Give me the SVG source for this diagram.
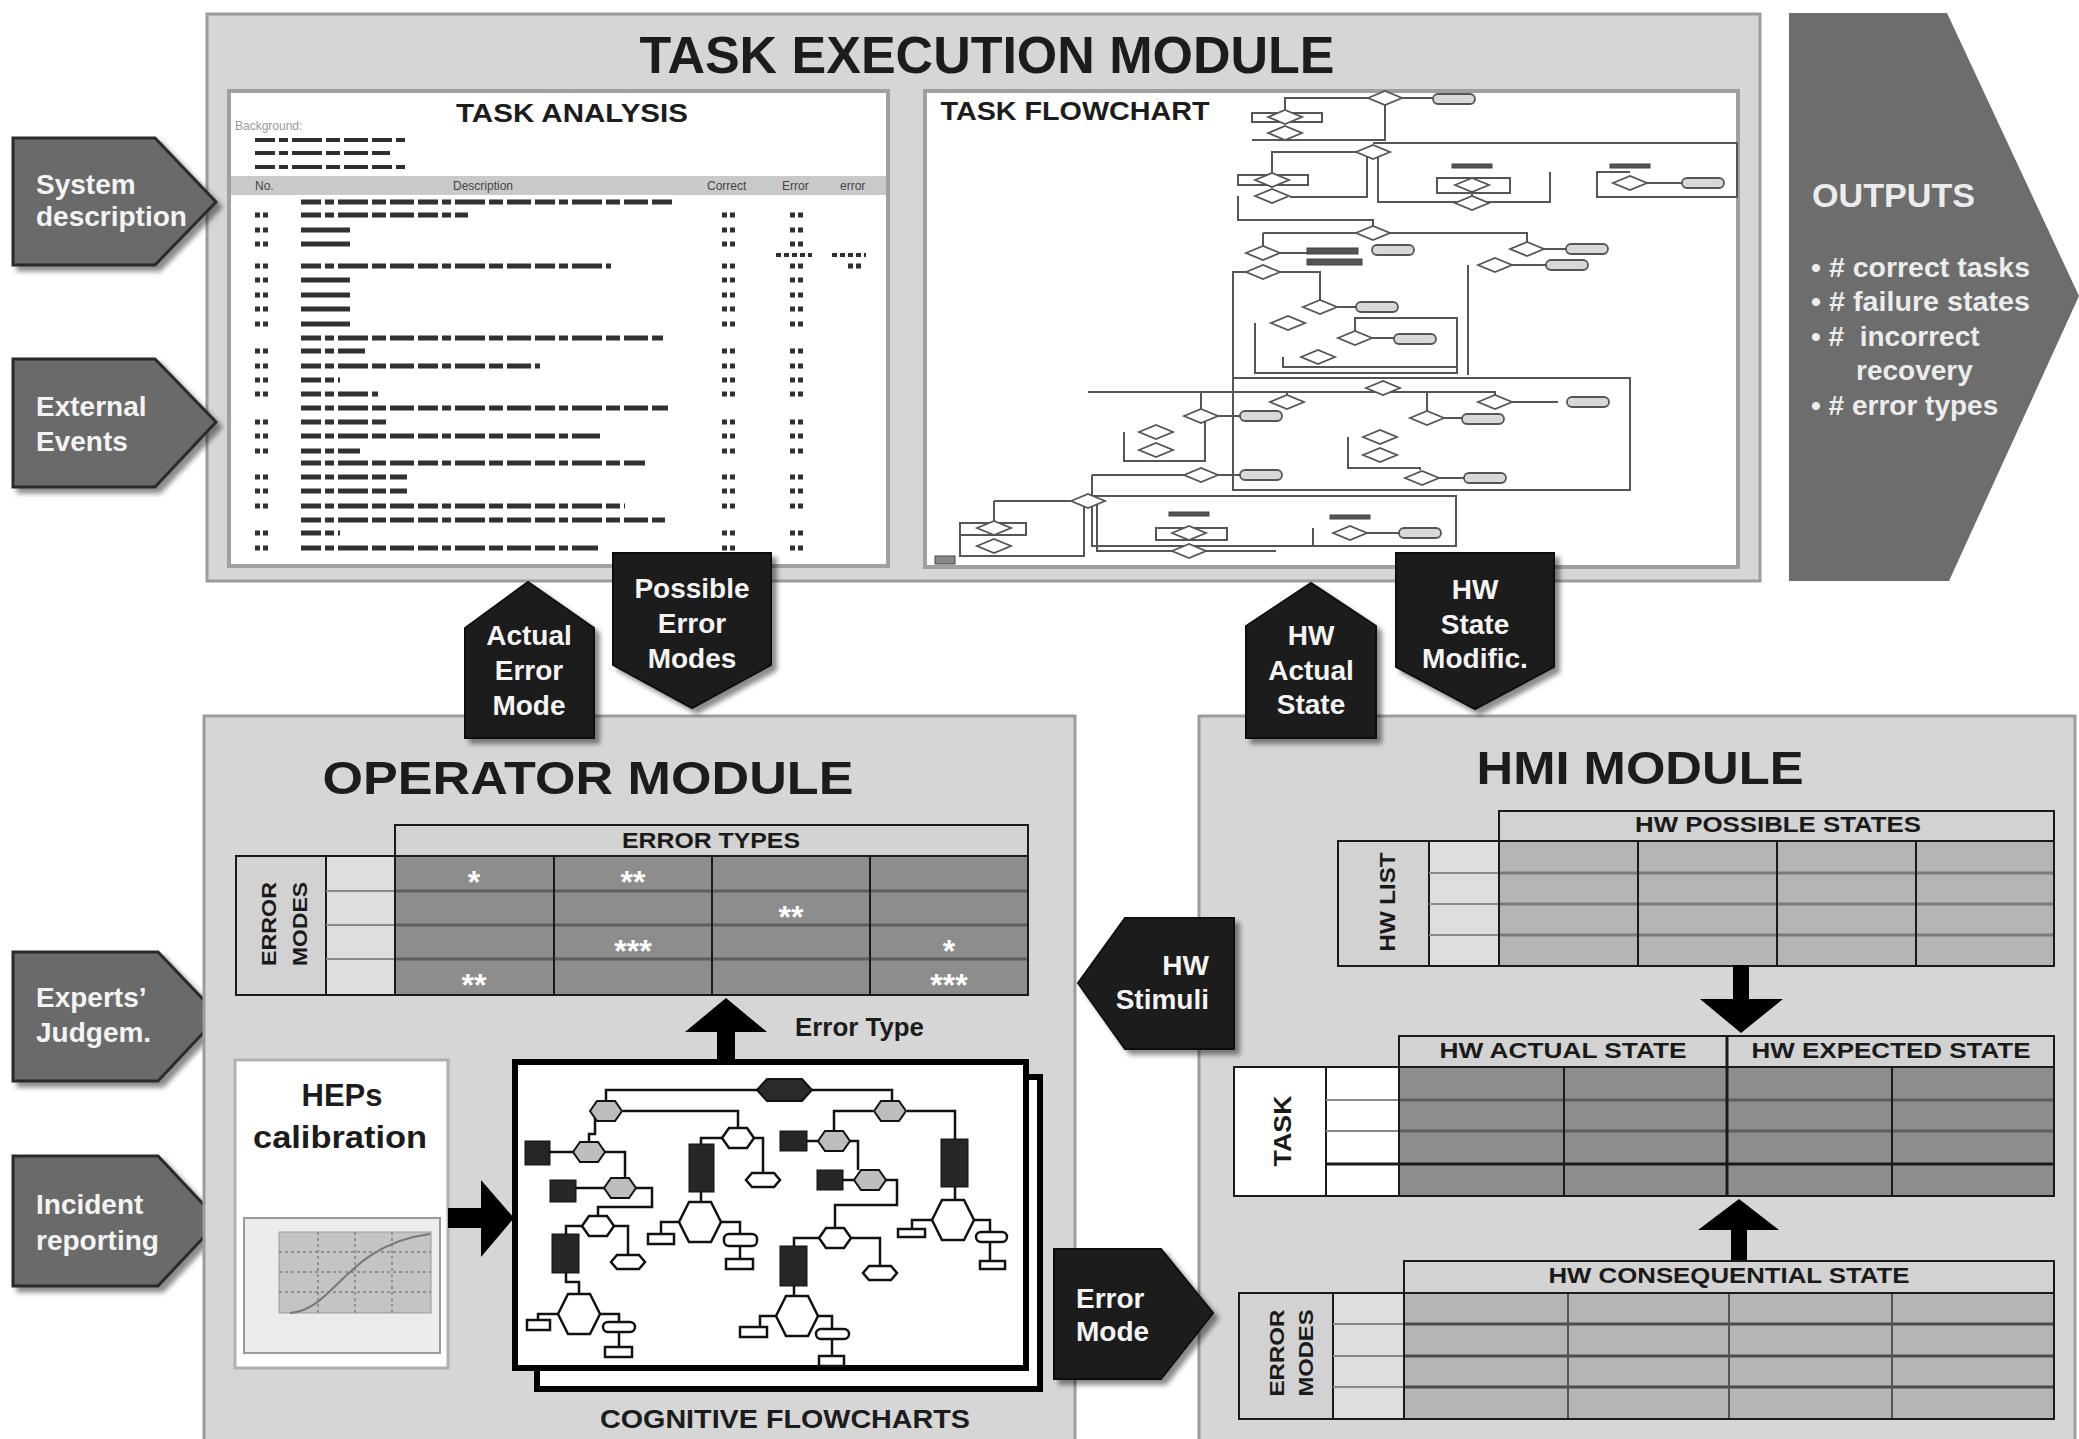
<svg xmlns="http://www.w3.org/2000/svg" width="2079" height="1439" viewBox="0 0 2079 1439">
<defs>
<filter id="sh" x="-20%" y="-20%" width="140%" height="140%"><feDropShadow dx="5" dy="5" stdDeviation="2.5" flood-color="#000" flood-opacity="0.45"/></filter>
<polygon id="dia" points="-17,0 0,-7 17,0 0,7"/>
<rect id="rr" x="-21" y="-5" width="42" height="10" rx="5"/>
<polygon id="hx" points="-16,0 -9,-10 9,-10 16,0 9,10 -9,10"/>
<polygon id="hxb" points="-21,0 -11,-20 11,-20 21,0 11,20 -11,20"/>
<polygon id="hxt" points="-17,0 -11,-7 11,-7 17,0 11,7 -11,7"/>
</defs>
<style>
.t{font-family:"Liberation Sans",Arial,sans-serif;font-weight:bold}
.tr{font-family:"Liberation Sans",Arial,sans-serif}
.mod{fill:#d6d6d6;stroke:#9c9c9c;stroke-width:3}
.inner{fill:#fff;stroke:#a0a0a0;stroke-width:4}
.title{font-size:52px;fill:#1c1c1c}
.w{fill:#f4f4f4;font-size:28px}
.blk{fill:#1e1e1e;stroke:#111;stroke-width:2;filter:url(#sh)}
.gin{fill:#6b6b6b;stroke:#2a2a2a;stroke-width:3;filter:url(#sh)}
.tb{stroke:#303030;stroke-width:5;stroke-dasharray:20 4 9 4 30 4 14 4 24 4;fill:none}
.tc{stroke:#303030;stroke-width:5;stroke-dasharray:5 3;fill:none}
.fl{fill:none;stroke:#555;stroke-width:2}
.fd{fill:#fff;stroke:#555;stroke-width:1.8}
.fr{fill:#d8d8d8;stroke:#555;stroke-width:1.8}
.fb{fill:#555;stroke:#444;stroke-width:1}
.cl{fill:none;stroke:#111;stroke-width:2.5}
.cg{fill:#bdbdbd;stroke:#111;stroke-width:2}
.cw{fill:#fff;stroke:#111;stroke-width:2.5}
.cd{fill:#262626;stroke:#111;stroke-width:1}
.hd{fill:#d2d2d2;stroke:#1a1a1a;stroke-width:2}
.lc{fill:#dedede;stroke:#1a1a1a;stroke-width:2}
.dk{fill:#8d8d8d;stroke:#1a1a1a;stroke-width:2}
.lt{fill:#b5b5b5;stroke:#1a1a1a;stroke-width:2}
.rl{stroke:#5e5e5e;stroke-width:3}
.rlg{stroke:#8a8a8a;stroke-width:2}
.cv{stroke:#1a1a1a;stroke-width:2}
.th{font-size:22px;fill:#1a1a1a}
.star{font-size:32px;fill:#fff}
.arr{fill:#000}
</style>

<rect width="2079" height="1439" fill="#fff"/>

<!-- TASK EXECUTION MODULE -->
<g id="task-execution-module">
<rect class="mod" x="207" y="14" width="1553" height="567"/>
<text class="t title" x="987" y="73" text-anchor="middle" textLength="695" lengthAdjust="spacingAndGlyphs">TASK EXECUTION MODULE</text>

<g id="task-analysis">
<rect class="inner" x="229" y="91" width="659" height="475"/>
<text class="t" x="572" y="122" font-size="26" fill="#1c1c1c" text-anchor="middle" textLength="232" lengthAdjust="spacingAndGlyphs">TASK ANALYSIS</text>
<text class="tr" x="235" y="130" font-size="12" fill="#999">Background:</text>
<g class="tb" style="stroke-width:4">
<line x1="255" y1="140" x2="405" y2="140"/><line x1="255" y1="153" x2="390" y2="153"/><line x1="255" y1="167" x2="408" y2="167"/>
</g>
<rect x="231" y="176" width="655" height="19" fill="#c9c9c9"/>
<g class="tr" font-size="12" fill="#444">
<text x="255" y="190">No.</text><text x="453" y="190">Description</text><text x="707" y="190">Correct</text><text x="782" y="190">Error</text><text x="840" y="190">error</text>
</g>
<g class="tb">
<line x1="301" y1="202" x2="675" y2="202"/>
<line x1="301" y1="215" x2="468" y2="215"/>
<line x1="301" y1="230" x2="350" y2="230" style="stroke-dasharray:none"/>
<line x1="301" y1="244" x2="350" y2="244" style="stroke-dasharray:none"/>
<line x1="301" y1="266" x2="611" y2="266"/>
<line x1="301" y1="280" x2="350" y2="280" style="stroke-dasharray:none"/>
<line x1="301" y1="295" x2="350" y2="295" style="stroke-dasharray:none"/>
<line x1="301" y1="309" x2="350" y2="309" style="stroke-dasharray:none"/>
<line x1="301" y1="324" x2="350" y2="324" style="stroke-dasharray:none"/>
<line x1="301" y1="338" x2="663" y2="338"/>
<line x1="301" y1="351" x2="365" y2="351"/>
<line x1="301" y1="366" x2="540" y2="366"/>
<line x1="301" y1="380" x2="340" y2="380"/>
<line x1="301" y1="394" x2="378" y2="394"/>
<line x1="301" y1="408" x2="668" y2="408"/>
<line x1="301" y1="422" x2="388" y2="422"/>
<line x1="301" y1="436" x2="600" y2="436"/>
<line x1="301" y1="451" x2="360" y2="451"/>
<line x1="301" y1="463" x2="645" y2="463"/>
<line x1="301" y1="477" x2="407" y2="477"/>
<line x1="301" y1="491" x2="407" y2="491"/>
<line x1="301" y1="506" x2="625" y2="506"/>
<line x1="301" y1="520" x2="665" y2="520"/>
<line x1="301" y1="533" x2="340" y2="533"/>
<line x1="301" y1="548" x2="598" y2="548"/>
</g>
<path class="tc" d="M255 215h15M255 230h15M255 244h15M255 266h15M255 280h15M255 295h15M255 309h15M255 324h15M255 351h15M255 366h15M255 380h15M255 394h15M255 422h15M255 436h15M255 451h15M255 477h15M255 491h15M255 506h15M255 533h15M255 548h15"/>
<path class="tc" d="M722 215h15M722 230h15M722 244h15M722 266h15M722 280h15M722 295h15M722 309h15M722 324h15M722 351h15M722 366h15M722 380h15M722 394h15M722 422h15M722 436h15M722 451h15M722 477h15M722 491h15M722 506h15M722 533h15M722 548h15"/>
<path class="tc" d="M790 215h16M790 230h16M790 244h16M790 266h16M790 280h16M790 295h16M790 309h16M790 324h16M790 351h16M790 366h16M790 380h16M790 394h16M790 422h16M790 436h16M790 451h16M790 477h16M790 491h16M790 506h16M790 533h16M790 548h16M848 266h14"/>
<path class="tc" style="stroke-width:4" d="M776 255h36M832 255h34"/>
</g>

<g id="task-flowchart">
<rect class="inner" x="925" y="91" width="813" height="476"/>
<text class="t" x="1075" y="120" font-size="26" fill="#1c1c1c" text-anchor="middle" textLength="269" lengthAdjust="spacingAndGlyphs">TASK FLOWCHART</text>
<path class="fl" d="M1285 112V98H1440M1252 140H1385V98M1252 113h70v9h-70zM1373 143H1737V197H1597V172H1630M1378 150V202H1550V172M1373 152H1272V175M1238 175h70v10h-70zM1367 152V197H1290M1238 196V220H1373V233M1263 233H1527V249M1263 233V253M1468 265V375M1233 273V378H1630V490H1233V378M1263 272H1233V273M1263 272H1320V307M1255 323V373H1457V318H1355V338M1283 357V367H1457M1088 392H1495V402M1201 416V392M1427 392V418M1348 437V468H1420V470M1124 432V461H1205V416M1092 475H1201M1092 475V496M1092 496H1456V546H1092ZM994 501H1088M994 501V523M960 523h66v12h-66zM960 528V556H1084V501M1097 500V551H1276M1156 528h71v12h-71zM1313 528V546H1456M1437 178h73v15h-73zM1597 172V197M1472 183V203M1630 183H1683M1527 249H1566M1495 265H1546M1263 253H1307M1320 307H1356M1355 338H1394M1495 402H1558M1427 418H1462M1422 478H1464M1201 475H1240M1201 416H1240M1350 533H1399M1287 402V392M945 556V563"/>
<g class="fd">
<use href="#dia" x="1385" y="98"/><use href="#dia" x="1285" y="117"/><use href="#dia" x="1285" y="133"/>
<use href="#dia" x="1373" y="152"/><use href="#dia" x="1272" y="180"/><use href="#dia" x="1272" y="196"/>
<use href="#dia" x="1472" y="185"/><use href="#dia" x="1472" y="203"/><use href="#dia" x="1630" y="183"/>
<use href="#dia" x="1373" y="233"/><use href="#dia" x="1263" y="253"/><use href="#dia" x="1263" y="272"/>
<use href="#dia" x="1527" y="249"/><use href="#dia" x="1495" y="265"/>
<use href="#dia" x="1320" y="307"/><use href="#dia" x="1288" y="323"/><use href="#dia" x="1355" y="338"/><use href="#dia" x="1318" y="357"/>
<use href="#dia" x="1383" y="388"/><use href="#dia" x="1287" y="402"/><use href="#dia" x="1495" y="402"/>
<use href="#dia" x="1201" y="416"/><use href="#dia" x="1427" y="418"/><use href="#dia" x="1380" y="437"/><use href="#dia" x="1380" y="455"/>
<use href="#dia" x="1156" y="432"/><use href="#dia" x="1156" y="450"/><use href="#dia" x="1422" y="478"/><use href="#dia" x="1201" y="475"/>
<use href="#dia" x="1088" y="501"/><use href="#dia" x="994" y="528"/><use href="#dia" x="994" y="546"/>
<use href="#dia" x="1189" y="533"/><use href="#dia" x="1189" y="551"/><use href="#dia" x="1350" y="533"/>
</g>
<g class="fr">
<use href="#rr" x="1454" y="99"/><use href="#rr" x="1703" y="183"/><use href="#rr" x="1393" y="250"/>
<use href="#rr" x="1587" y="249"/><use href="#rr" x="1567" y="265"/><use href="#rr" x="1377" y="307"/>
<use href="#rr" x="1415" y="339"/><use href="#rr" x="1588" y="402"/><use href="#rr" x="1483" y="419"/>
<use href="#rr" x="1261" y="416"/><use href="#rr" x="1485" y="478"/><use href="#rr" x="1261" y="475"/>
<use href="#rr" x="1420" y="533"/>
</g>
<g class="fb">
<rect x="1307" y="248" width="51" height="6"/><rect x="1307" y="259" width="55" height="6"/>
<rect x="1452" y="164" width="40" height="4"/><rect x="1610" y="164" width="40" height="4"/>
<rect x="1169" y="512" width="40" height="4"/><rect x="1330" y="515" width="40" height="4"/>
<rect x="935" y="556" width="20" height="8" fill="#888"/>
</g>
</g>
</g>

<!-- OUTPUTS -->
<g id="outputs">
<polygon points="1789,13 1947,13 2079,296 1949,581 1789,581" fill="#6d6d6d"/>
<g class="t" fill="#ececec">
<text x="1812" y="207" font-size="33" textLength="163" lengthAdjust="spacingAndGlyphs">OUTPUTS</text>
<text x="1811" y="277" font-size="28" textLength="219" lengthAdjust="spacingAndGlyphs">• # correct tasks</text>
<text x="1811" y="311" font-size="28" textLength="219" lengthAdjust="spacingAndGlyphs">• # failure states</text>
<text x="1811" y="346" font-size="28" xml:space="preserve">• #  incorrect</text>
<text x="1856" y="380" font-size="28">recovery</text>
<text x="1811" y="415" font-size="28">• # error types</text>
</g>
</g>

<!-- INPUTS -->
<g id="input-system-description">
<polygon class="gin" points="13,138 155,138 216,202 155,265 13,265"/>
<text class="t w" x="36" y="194">System</text>
<text class="t w" x="36" y="226">description</text>
</g>
<g id="input-external-events">
<polygon class="gin" points="13,359 155,359 216,422 155,487 13,487"/>
<text class="t w" x="36" y="416">External</text>
<text class="t w" x="36" y="451">Events</text>
</g>
<g id="input-experts-judgement">
<polygon class="gin" points="13,952 158,952 219,1016 158,1081 13,1081"/>
<text class="t w" x="36" y="1007">Experts’</text>
<text class="t w" x="36" y="1042">Judgem.</text>
</g>
<g id="input-incident-reporting">
<polygon class="gin" points="13,1156 158,1156 219,1221 158,1286 13,1286"/>
<text class="t w" x="36" y="1214">Incident</text>
<text class="t w" x="36" y="1250">reporting</text>
</g>

<!-- OPERATOR MODULE -->
<g id="operator-module">
<rect class="mod" x="204" y="716" width="871" height="730"/>
<text class="t title" x="588" y="794" text-anchor="middle" textLength="531" lengthAdjust="spacingAndGlyphs" style="font-size:46px">OPERATOR MODULE</text>

<g id="error-types-table">
<rect class="hd" x="395" y="825" width="633" height="31"/>
<text class="t th" x="711" y="848" text-anchor="middle" textLength="178" lengthAdjust="spacingAndGlyphs">ERROR TYPES</text>
<rect class="hd" x="236" y="856" width="90" height="139"/>
<rect class="lc" x="326" y="856" width="69" height="139"/>
<path class="rlg" d="M326 891H395M326 925H395M326 959H395"/>
<rect class="dk" x="395" y="856" width="633" height="139"/>
<path class="rl" d="M395 891H1028M395 925H1028M395 959H1028"/>
<path class="cv" d="M554 856V995M712 856V995M870 856V995"/>
<rect x="395" y="856" width="633" height="139" fill="none" stroke="#1a1a1a" stroke-width="2"/>
<text class="t" font-size="21" fill="#1a1a1a" transform="translate(276,924) rotate(-90)" text-anchor="middle" textLength="84" lengthAdjust="spacingAndGlyphs">ERROR</text>
<text class="t" font-size="21" fill="#1a1a1a" transform="translate(307,924) rotate(-90)" text-anchor="middle" textLength="84" lengthAdjust="spacingAndGlyphs">MODES</text>
<g class="t star" text-anchor="middle">
<text x="474" y="893">*</text><text x="633" y="893">**</text>
<text x="791" y="928">**</text>
<text x="633" y="962">***</text><text x="949" y="962">*</text>
<text x="474" y="996">**</text><text x="949" y="996">***</text>
</g>
</g>

<g id="heps-calibration">
<rect x="235" y="1060" width="213" height="308" fill="#fff" stroke="#b0b0b0" stroke-width="3"/>
<text class="t" x="342" y="1106" font-size="31" fill="#1c1c1c" text-anchor="middle">HEPs</text>
<text class="t" x="340" y="1148" font-size="31" fill="#1c1c1c" text-anchor="middle" textLength="174" lengthAdjust="spacingAndGlyphs">calibration</text>
<rect x="244" y="1218" width="196" height="135" fill="#ececec" stroke="#9a9a9a" stroke-width="2"/>
<rect x="279" y="1232" width="152" height="81" fill="#c4c4c4" stroke="#999" stroke-width="1"/>
<path d="M318 1232V1313M355 1232V1313M392 1232V1313M279 1252H431M279 1272H431M279 1292H431" stroke="#808080" stroke-width="1.5" stroke-dasharray="3 3"/>
<path d="M290 1313C335 1310 345 1245 430 1234" fill="none" stroke="#777" stroke-width="2"/>
</g>

<g id="cognitive-flowcharts">
<rect x="537" y="1077" width="503" height="312" fill="#fff" stroke="#000" stroke-width="6"/>
<rect x="515" y="1062" width="511" height="306" fill="#fff" stroke="#000" stroke-width="6"/>
<path class="cl" d="M606 1101V1090H757M812 1090H892V1101M623 1111H738V1128M595 1118V1134H589V1143M550 1152H574M604 1152H625V1178M576 1188H606M634 1188H652V1207H598V1215M584 1226H566V1234M612 1226H628V1255M566 1273V1282H579V1294M559 1314H538V1320M599 1314H619V1322M619 1332V1347M724 1138H701V1144M752 1138H763V1173M701 1192V1202M680 1222H661V1234M720 1222H740V1234M740 1246V1259M873 1111H834V1132M907 1111H955V1139M820 1141H807M848 1141H858V1170M855 1180H843M885 1180H897V1205H835V1228M820 1238H794V1246M850 1238H880V1266M794 1286V1296M777 1316H760V1327M817 1316H832V1329M832 1339V1356M955 1187V1200M933 1220H912V1229M973 1220H990V1232M990 1242V1261"/>
<polygon points="757,1090 767,1079 802,1079 812,1090 802,1101 767,1101" fill="#2a2a2a" stroke="#111" stroke-width="2"/>
<g class="cg">
<use href="#hx" x="606" y="1111"/><use href="#hx" x="890" y="1111"/><use href="#hx" x="589" y="1152"/>
<use href="#hx" x="620" y="1188"/><use href="#hx" x="834" y="1141"/><use href="#hx" x="870" y="1180"/>
</g>
<g class="cw">
<use href="#hx" x="738" y="1138"/><use href="#hx" x="598" y="1226"/><use href="#hx" x="835" y="1238"/>
<use href="#hxb" x="700" y="1222"/><use href="#hxb" x="579" y="1314"/><use href="#hxb" x="797" y="1316"/><use href="#hxb" x="953" y="1220"/>
<use href="#hxt" x="763" y="1180"/><use href="#hxt" x="628" y="1262"/><use href="#hxt" x="880" y="1273"/>
<rect x="648" y="1234" width="26" height="10"/><rect x="724" y="1234" width="33" height="12" rx="5"/><rect x="726" y="1259" width="27" height="10"/>
<rect x="527" y="1320" width="23" height="10"/><rect x="603" y="1322" width="32" height="10" rx="5"/><rect x="605" y="1347" width="27" height="10"/>
<rect x="740" y="1327" width="27" height="10"/><rect x="816" y="1329" width="33" height="10" rx="5"/><rect x="819" y="1356" width="25" height="10"/>
<rect x="898" y="1229" width="27" height="8"/><rect x="976" y="1232" width="31" height="10" rx="5"/><rect x="980" y="1261" width="25" height="8"/>
</g>
<g class="cd">
<rect x="525" y="1141" width="25" height="24"/><rect x="550" y="1180" width="26" height="22"/><rect x="689" y="1144" width="25" height="48"/>
<rect x="552" y="1234" width="27" height="39"/><rect x="780" y="1131" width="27" height="20"/><rect x="817" y="1170" width="26" height="20"/>
<rect x="780" y="1246" width="27" height="40"/><rect x="941" y="1139" width="27" height="48"/>
</g>
<text class="t" x="785" y="1428" font-size="25" fill="#1c1c1c" text-anchor="middle" textLength="370" lengthAdjust="spacingAndGlyphs">COGNITIVE FLOWCHARTS</text>
</g>

<g id="operator-arrows">
<rect class="arr" x="448" y="1208" width="34" height="20"/>
<polygon class="arr" points="481,1180 514,1218 481,1257"/>
<rect class="arr" x="717" y="1030" width="18" height="33"/>
<polygon class="arr" points="685,1032 767,1032 726,998"/>
<text class="t" x="795" y="1036" font-size="25" fill="#1c1c1c" textLength="129" lengthAdjust="spacingAndGlyphs">Error Type</text>
</g>
</g>

<!-- HMI MODULE -->
<g id="hmi-module">
<rect class="mod" x="1199" y="716" width="876" height="730"/>
<text class="t title" x="1640" y="784" text-anchor="middle" textLength="327" lengthAdjust="spacingAndGlyphs" style="font-size:46px">HMI MODULE</text>

<g id="hw-possible-states">
<rect class="hd" x="1499" y="811" width="555" height="30"/>
<text class="t th" x="1778" y="832" text-anchor="middle" textLength="286" lengthAdjust="spacingAndGlyphs">HW POSSIBLE STATES</text>
<rect class="hd" x="1338" y="841" width="91" height="125"/>
<rect class="lc" x="1429" y="841" width="70" height="125"/>
<path class="rlg" d="M1429 873H1499M1429 904H1499M1429 935H1499"/>
<rect class="lt" x="1499" y="841" width="555" height="125"/>
<path class="rl" d="M1499 873H2054M1499 904H2054M1499 935H2054" style="stroke:#7a7a7a"/>
<path class="cv" d="M1638 841V966M1777 841V966M1916 841V966"/>
<rect x="1499" y="841" width="555" height="125" fill="none" stroke="#1a1a1a" stroke-width="2"/>
<text class="t" font-size="22" fill="#1a1a1a" transform="translate(1395,902) rotate(-90)" text-anchor="middle" textLength="99" lengthAdjust="spacingAndGlyphs">HW LIST</text>
</g>

<rect class="arr" x="1733" y="965" width="16" height="36"/>
<polygon class="arr" points="1700,999 1783,999 1741,1033"/>

<g id="hw-actual-expected">
<rect class="hd" x="1399" y="1036" width="655" height="31"/>
<text class="t th" x="1563" y="1058" text-anchor="middle" textLength="247" lengthAdjust="spacingAndGlyphs">HW ACTUAL STATE</text>
<text class="t th" x="1891" y="1058" text-anchor="middle" textLength="279" lengthAdjust="spacingAndGlyphs">HW EXPECTED STATE</text>
<rect x="1234" y="1067" width="92" height="129" fill="#fff" stroke="#1a1a1a" stroke-width="2"/>
<rect x="1326" y="1067" width="73" height="129" fill="#fff" stroke="#1a1a1a" stroke-width="2"/>
<path class="rlg" d="M1326 1100H1399M1326 1131H1399M1326 1164H1399"/>
<rect class="dk" x="1399" y="1067" width="655" height="129"/>
<path class="rl" d="M1399 1100H2054M1399 1131H2054"/>
<path d="M1326 1164H2054" stroke="#1a1a1a" stroke-width="3"/>
<path class="cv" d="M1564 1067V1196M1892 1067V1196"/>
<path d="M1727 1036V1196" stroke="#1a1a1a" stroke-width="3"/>
<rect x="1399" y="1067" width="655" height="129" fill="none" stroke="#1a1a1a" stroke-width="2"/>
<text class="t" font-size="24" fill="#1a1a1a" transform="translate(1291,1131) rotate(-90)" text-anchor="middle" textLength="71" lengthAdjust="spacingAndGlyphs">TASK</text>
</g>

<rect class="arr" x="1731" y="1228" width="16" height="34"/>
<polygon class="arr" points="1698,1230 1779,1230 1739,1199"/>

<g id="hw-consequential-state">
<rect class="hd" x="1404" y="1261" width="650" height="32"/>
<text class="t th" x="1729" y="1283" text-anchor="middle" textLength="361" lengthAdjust="spacingAndGlyphs">HW CONSEQUENTIAL STATE</text>
<rect class="hd" x="1239" y="1293" width="94" height="126"/>
<rect class="lc" x="1333" y="1293" width="71" height="126"/>
<path class="rlg" d="M1333 1324H1404M1333 1356H1404M1333 1387H1404"/>
<rect class="lt" x="1404" y="1293" width="650" height="126"/>
<path class="rl" d="M1404 1324H2054M1404 1356H2054M1404 1387H2054" style="stroke:#4a4a4a"/>
<path class="cv" d="M1568 1293V1419M1729 1293V1419M1892 1293V1419" style="stroke:#555"/>
<rect x="1404" y="1293" width="650" height="126" fill="none" stroke="#1a1a1a" stroke-width="2"/>
<text class="t" font-size="21" fill="#1a1a1a" transform="translate(1284,1353) rotate(-90)" text-anchor="middle" textLength="87" lengthAdjust="spacingAndGlyphs">ERROR</text>
<text class="t" font-size="21" fill="#1a1a1a" transform="translate(1313,1353) rotate(-90)" text-anchor="middle" textLength="87" lengthAdjust="spacingAndGlyphs">MODES</text>
</g>
</g>

<!-- CONNECTORS -->
<g id="connectors">
<g id="conn-actual-error-mode">
<polygon class="blk" points="465,628 528,582 594,628 594,738 465,738"/>
<g class="t w" text-anchor="middle"><text x="529" y="645">Actual</text><text x="529" y="680">Error</text><text x="529" y="715">Mode</text></g>
</g>
<g id="conn-possible-error-modes">
<polygon class="blk" points="613,553 771,553 771,665 692,708 613,665"/>
<g class="t w" text-anchor="middle"><text x="692" y="598">Possible</text><text x="692" y="633">Error</text><text x="692" y="668">Modes</text></g>
</g>
<g id="conn-hw-actual-state">
<polygon class="blk" points="1246,626 1311,583 1376,626 1376,738 1246,738"/>
<g class="t w" text-anchor="middle"><text x="1311" y="645">HW</text><text x="1311" y="680">Actual</text><text x="1311" y="714">State</text></g>
</g>
<g id="conn-hw-state-modific">
<polygon class="blk" points="1396,553 1554,553 1554,667 1475,709 1396,667"/>
<g class="t w" text-anchor="middle"><text x="1475" y="599">HW</text><text x="1475" y="634">State</text><text x="1475" y="668">Modific.</text></g>
</g>
<g id="conn-hw-stimuli">
<polygon class="blk" points="1078,983 1125,918 1234,918 1234,1049 1125,1049"/>
<g class="t w" text-anchor="end"><text x="1209" y="975">HW</text><text x="1209" y="1009">Stimuli</text></g>
</g>
<g id="conn-error-mode">
<polygon class="blk" points="1054,1249 1161,1249 1213,1313 1161,1379 1054,1379"/>
<g class="t w"><text x="1076" y="1308">Error</text><text x="1076" y="1341">Mode</text></g>
</g>
</g>
</svg>
